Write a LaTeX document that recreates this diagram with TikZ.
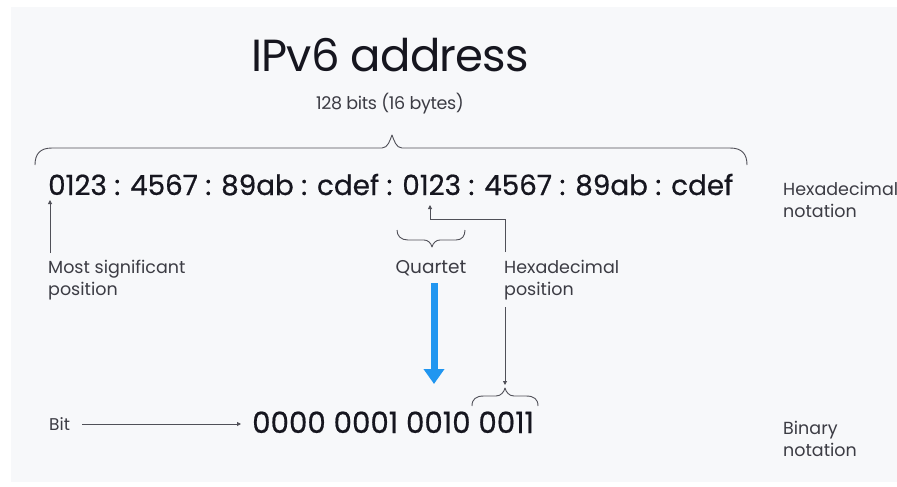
\documentclass[tikz,border=0pt]{standalone}
\usepackage{fontspec}
\setmainfont{Poppins}
\usetikzlibrary{arrows.meta}
\definecolor{panel}{HTML}{F7F8FA}
\definecolor{ink}{HTML}{16161F}
\definecolor{lab}{HTML}{3C3C44}
\definecolor{wire}{HTML}{505058}
\definecolor{blueA}{HTML}{2196F0}
\tikzset{
  lbl/.style={inner sep=0pt, text=lab, font=\fontsize{17.5}{22}\selectfont, align=left},
  wireline/.style={draw=wire, line width=0.9pt},
  tipA/.style={-{Triangle[width=4pt,length=4pt]}},
  bracepath/.style={draw=wire, line width=0.9pt, line join=round}
}
\begin{document}
\begin{tikzpicture}[x=1pt,y=-1pt]
\useasboundingbox (0,0) rectangle (897,487);
\fill[white] (0,0) rectangle (897,487);
\fill[panel] (11,7) rectangle (897,482);
% title
\node[inner sep=0pt, anchor=base, text=ink, font=\fontsize{45}{50}\selectfont\addfontfeature{LetterSpace=-2}] (title) at (390,72) {IPv6 address};
\node[inner sep=0pt, anchor=base, text=lab, font=\fontsize{17.5}{20}\selectfont\addfontfeature{LetterSpace=-2}] (bits) at (390,110) {128 bits (16 bytes)};
% big brace
\draw[bracepath] (35,165) .. controls (35,154) and (40,148) .. (52,148) -- (382,148)
  .. controls (388,148) and (390,140) .. (392,135)
  .. controls (394,140) and (396,148) .. (402,148) -- (730,148)
  .. controls (742,148) and (747,154) .. (747,165);
% hex line
\node[inner sep=0pt, anchor=base west, text=ink, font=\fontsize{27.8}{32}\selectfont\addfontfeature{FakeBold=0.6}] (hex) at (48,195) {0123 : 4567 : 89ab : cdef : 0123 : 4567 : 89ab : cdef};
\node[lbl, anchor=base west] (hexnot) at (783,217) {Hexadecimal\\notation};
% most significant
\node[lbl, anchor=base west] (msp) at (48,295) {Most significant\\position};
\coordinate (mspTop) at (50,253);
\coordinate (mspTip) at (50,200);
\draw[wireline, tipA] (mspTop) -- (mspTip);
% quartet brace
\draw[bracepath] (397,230) .. controls (397,236) and (401,240) .. (408,240) -- (424,240)
  .. controls (428,240) and (431,243) .. (432,247)
  .. controls (433,243) and (436,240) .. (440,240) -- (456,240)
  .. controls (462,240) and (465,236) .. (465,230);
\node[inner sep=0pt, anchor=base, text=lab, font=\fontsize{18.5}{22}\selectfont] (quartet) at (431,273) {Quartet};
% hexadecimal position
\node[lbl, anchor=base west] (hexpos) at (504,295) {Hexadecimal\\position};
\coordinate (hpTip) at (430,205);
\coordinate (hpCorner) at (430,219);
\coordinate (hpRight) at (505,219);
\coordinate (hpLow) at (505,252);
\draw[wireline, tipA] (hpLow) -- (hpRight) -- (hpCorner) -- (hpTip);
\coordinate (hpStart) at (505,307);
\coordinate (hpEnd) at (505,385);
\draw[wireline, tipA] (hpStart) -- (hpEnd);
% blue arrow
\coordinate (bStart) at (434,283);
\coordinate (bEnd) at (434,384);
\draw[draw=blueA, line width=7pt, -{Triangle[width=20pt,length=15pt]}] (bStart) -- (bEnd);
% brace above 0011
\draw[bracepath] (472,406) .. controls (472,399) and (476,396) .. (484,396) -- (496,396)
  .. controls (501,396) and (504,392) .. (505,388)
  .. controls (506,392) and (509,396) .. (514,396) -- (526,396)
  .. controls (534,396) and (538,399) .. (538,406);
% binary
\node[inner sep=0pt, anchor=base west, text=ink, font=\fontsize{29.3}{32}\selectfont\addfontfeature{FakeBold=0.6}] (bin) at (252,433) {0000 0001 0010 0011};
\node[inner sep=0pt, anchor=base west, text=lab, font=\fontsize{17}{20}\selectfont] (bit) at (49,430) {Bit};
\coordinate (bitStart) at (82,424);
\coordinate (bitEnd) at (241,424);
\draw[wireline, tipA] (bitStart) -- (bitEnd);
\node[lbl, anchor=base west] (binnot) at (783,456) {Binary\\notation};
\end{tikzpicture}
\end{document}
